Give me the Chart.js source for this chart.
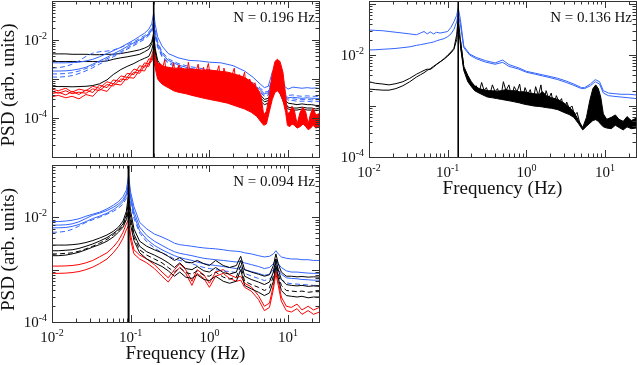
<!DOCTYPE html>
<html>
<head>
<meta charset="utf-8">
<script src="https://cdn.jsdelivr.net/npm/chart.js@4.4.0/dist/chart.umd.min.js"></script>
<style>
  html, body { margin: 0; padding: 0; background: #fff; }
  #wrap { position: relative; width: 637px; height: 365px; }
  #wrap canvas { position: absolute; left: 0; top: 0; }
</style>
</head>
<body>
<div id="wrap">
  <canvas id="psdTopLeft" width="637" height="365"></canvas>
  <canvas id="psdBottomLeft" width="637" height="365"></canvas>
  <canvas id="psdTopRight" width="637" height="365"></canvas>
</div>
<script>
// ---- tick labels (powers of ten) ----
const xTickVals = [0.01, 0.1, 1, 10];
const xTickExps = ['-2', '-1', '0', '1'];
const yTickVals = [1e-2, 1e-4];
const yTickExps = ['-2', '-4'];

// ---- top-left panel, N = 0.196 Hz ----
const tlN = 0.196;
const tlFreq = [0.01, 0.012, 0.015, 0.018, 0.022, 0.027, 0.033, 0.04, 0.05, 0.06,
  0.075, 0.09, 0.11, 0.13, 0.15, 0.17, 0.185, 0.196, 0.205, 0.22,
  0.25, 0.3, 0.4, 0.55, 0.75, 1, 1.4, 2, 2.8, 3.6,
  4.4, 5, 5.6, 6.3, 7.2, 8, 9, 10, 11.5, 13,
  15, 17.5, 20, 22.5, 25];
const tlBlack1 = [4.4e-3, 4.4e-3, 4.4e-3, 4.3e-3, 4.3e-3, 4.3e-3, 4.2e-3, 4.2e-3, 4.3e-3, 4.3e-3,
  4.5e-3, 4.8e-3, 5.2e-3, 5.6e-3, 6.2e-3, 7.0e-3, 9.0e-3, 1.5e-2, 6e-3, 3e-3,
  2.0e-3, 1.6e-3, 1.3e-3, 1.1e-3, 1.0e-3, 9e-4, 8e-4, 7e-4, 6e-4, 5e-4,
  4e-4, 3e-4, 3.2e-4, 5e-4, 8e-4, 5e-4, 3e-4, 2.4e-4, 2.3e-4, 2.2e-4,
  2.3e-4, 2.2e-4, 2.2e-4, 2.1e-4, 2.1e-4];
const tlBlack2 = [2.8e-3, 2.8e-3, 2.8e-3, 2.8e-3, 2.8e-3, 2.8e-3, 2.8e-3, 2.8e-3, 2.9e-3, 3.2e-3,
  3.5e-3, 3.7e-3, 4.0e-3, 4.3e-3, 5.0e-3, 5.8e-3, 8e-3, 1.2e-2, 5e-3, 2.5e-3,
  1.8e-3, 1.4e-3, 1.2e-3, 1.0e-3, 9e-4, 8e-4, 7e-4, 6e-4, 5e-4, 4.2e-4,
  3.4e-4, 2.6e-4, 2.8e-4, 4.5e-4, 7e-4, 4.5e-4, 2.6e-4, 1.9e-4, 1.8e-4, 1.8e-4,
  1.9e-4, 1.8e-4, 1.8e-4, 1.7e-4, 1.8e-4];
const tlBlack3 = [6.5e-4, 6.4e-4, 6.4e-4, 6.3e-4, 6.4e-4, 6.5e-4, 6.8e-4, 7.5e-4, 9.5e-4, 1.3e-3,
  1.75e-3, 2.1e-3, 2.5e-3, 3.0e-3, 3.4e-3, 3.8e-3, 5.5e-3, 9e-3, 4e-3, 2e-3,
  1.5e-3, 1.2e-3, 1.0e-3, 9e-4, 8e-4, 7e-4, 6e-4, 5e-4, 4.2e-4, 3.5e-4,
  2.8e-4, 2.2e-4, 2.4e-4, 4e-4, 6e-4, 4e-4, 2.2e-4, 1.7e-4, 1.6e-4, 1.6e-4,
  1.7e-4, 1.6e-4, 1.6e-4, 1.55e-4, 1.6e-4];
const tlBlue1 = [2.6e-3, 2.6e-3, 2.6e-3, 2.65e-3, 2.7e-3, 2.9e-3, 3.2e-3, 3.7e-3, 4.5e-3, 5.3e-3,
  6.5e-3, 8e-3, 1.0e-2, 1.25e-2, 1.5e-2, 1.9e-2, 2.6e-2, 5e-2, 2.5e-2, 1.2e-2,
  7e-3, 4.5e-3, 3.5e-3, 3.0e-3, 2.9e-3, 2.7e-3, 2.6e-3, 2.2e-3, 1.6e-3, 1.1e-3,
  7.5e-4, 6e-4, 6.5e-4, 1.5e-3, 2.2e-3, 1.2e-3, 6.5e-4, 5.5e-4, 6.2e-4, 6e-4,
  5.8e-4, 6e-4, 5.8e-4, 5.9e-4, 5.7e-4];
const tlBlue2 = [1.9e-3, 1.95e-3, 2.1e-3, 2.4e-3, 2.9e-3, 3.8e-3, 4.6e-3, 5.0e-3, 5.2e-3, 5.5e-3,
  6.5e-3, 7.5e-3, 9e-3, 1.1e-2, 1.3e-2, 1.6e-2, 2.0e-2, 3.2e-2, 1.8e-2, 9e-3,
  5e-3, 3.3e-3, 2.5e-3, 2.1e-3, 1.9e-3, 1.7e-3, 1.5e-3, 1.3e-3, 1.05e-3, 8e-4,
  6e-4, 4.6e-4, 4.8e-4, 1.1e-3, 1.7e-3, 9e-4, 4.5e-4, 3.8e-4, 3.9e-4, 3.7e-4,
  3.6e-4, 3.7e-4, 3.6e-4, 3.6e-4, 3.5e-4];
const tlBlue3 = [1.6e-3, 1.6e-3, 1.62e-3, 1.68e-3, 1.8e-3, 2.0e-3, 2.4e-3, 2.9e-3, 3.6e-3, 4.4e-3,
  5.5e-3, 6.8e-3, 8.5e-3, 1.0e-2, 1.2e-2, 1.45e-2, 1.8e-2, 2.8e-2, 1.5e-2, 8e-3,
  4.5e-3, 3.0e-3, 2.3e-3, 1.9e-3, 1.7e-3, 1.5e-3, 1.35e-3, 1.15e-3, 9.5e-4, 7.2e-4,
  5.4e-4, 4.2e-4, 4.4e-4, 1.0e-3, 1.5e-3, 8e-4, 4.1e-4, 3.3e-4, 3.4e-4, 3.3e-4,
  3.2e-4, 3.3e-4, 3.2e-4, 3.2e-4, 3.1e-4];
const tlBlue4 = [1.35e-3, 1.35e-3, 1.38e-3, 1.45e-3, 1.6e-3, 1.85e-3, 2.2e-3, 2.7e-3, 3.3e-3, 4.0e-3,
  5.0e-3, 6.2e-3, 7.8e-3, 9.5e-3, 1.15e-2, 1.4e-2, 1.7e-2, 2.4e-2, 1.3e-2, 7e-3,
  4e-3, 2.7e-3, 2.1e-3, 1.75e-3, 1.55e-3, 1.4e-3, 1.25e-3, 1.05e-3, 8.6e-4, 6.6e-4,
  5e-4, 3.9e-4, 4.1e-4, 9e-4, 1.4e-3, 7.4e-4, 3.8e-4, 3.1e-4, 3.1e-4, 3.0e-4,
  3.0e-4, 3.0e-4, 2.9e-4, 3.0e-4, 2.9e-4];
const tlBlue5 = [1.12e-3, 1.12e-3, 1.15e-3, 1.22e-3, 1.38e-3, 1.62e-3, 1.95e-3, 2.4e-3, 3.0e-3, 3.7e-3,
  4.6e-3, 5.8e-3, 7.2e-3, 8.8e-3, 1.05e-2, 1.3e-2, 1.6e-2, 2.2e-2, 1.2e-2, 6.5e-3,
  3.7e-3, 2.5e-3, 1.95e-3, 1.6e-3, 1.45e-3, 1.3e-3, 1.15e-3, 9.6e-4, 7.8e-4, 6e-4,
  4.6e-4, 3.6e-4, 3.8e-4, 8.5e-4, 1.3e-3, 6.8e-4, 3.5e-4, 2.8e-4, 2.8e-4, 2.7e-4,
  2.7e-4, 2.7e-4, 2.6e-4, 2.7e-4, 2.6e-4];
// red runs below the peak use the first 18 frequencies
const tlRed1 = [5.5e-4, 5.0e-4, 5.8e-4, 4.6e-4, 5.5e-4, 5.0e-4, 6.5e-4, 5.8e-4, 8.5e-4, 7.5e-4,
  1.2e-3, 1.1e-3, 1.8e-3, 1.6e-3, 2.6e-3, 2.4e-3, 4e-3, 6e-3];
const tlRed2 = [4.2e-4, 4.6e-4, 3.9e-4, 4.8e-4, 4.0e-4, 5.2e-4, 4.5e-4, 7.0e-4, 6.0e-4, 9.5e-4,
  8.5e-4, 1.4e-3, 1.3e-3, 2.2e-3, 2.0e-3, 3.3e-3, 3.2e-3, 5e-3];
const tlRed3 = [3.5e-4, 3.8e-4, 3.3e-4, 3.6e-4, 3.1e-4, 4.0e-4, 3.6e-4, 5.5e-4, 4.8e-4, 7.5e-4,
  7.0e-4, 1.1e-3, 1.05e-3, 1.7e-3, 1.6e-3, 2.6e-3, 2.8e-3, 4e-3];
const tlRed4 = [4.8e-4, 4.3e-4, 5.0e-4, 4.2e-4, 4.6e-4, 4.3e-4, 5.6e-4, 5.0e-4, 7.2e-4, 6.6e-4,
  1.0e-3, 9.5e-4, 1.5e-3, 1.4e-3, 2.2e-3, 2.1e-3, 3.4e-3, 4.5e-3];
// dense red band above the peak: upper and lower edges
const tlBandFreq = [0.196, 0.2, 0.21, 0.22, 0.24, 0.26, 0.3, 0.35, 0.4, 0.5,
  0.6, 0.8, 1, 1.3, 1.7, 2.2, 2.8, 3.4, 4, 4.5,
  4.9, 5.3, 5.8, 6.3, 6.8, 7.3, 7.9, 8.6, 9.3, 9.8,
  10.5, 11.2, 12, 13, 14.2, 15.5, 16.8, 18, 19.3, 20.8,
  22.5, 25];
const tlRedUpper = [6e-3, 4.5e-3, 3.0e-3, 2.5e-3, 2.4e-3, 2.1e-3, 2.0e-3, 1.9e-3, 1.9e-3, 1.8e-3,
  1.8e-3, 1.7e-3, 1.7e-3, 1.6e-3, 1.5e-3, 1.3e-3, 1.1e-3, 8.5e-4, 6e-4, 4e-4,
  1.2e-4, 1.5e-4, 4e-4, 1.4e-3, 2.8e-3, 3.2e-3, 2.8e-3, 1.5e-3, 4e-4, 1.3e-4,
  1.4e-4, 2.0e-4, 1.6e-4, 7e-5, 1.4e-4, 1.9e-4, 1.4e-4, 7e-5, 1.3e-4, 1.8e-4,
  1.2e-4, 1.3e-4];
const tlRedLower = [5e-3, 2.5e-3, 1.5e-3, 1.0e-3, 8e-4, 7e-4, 6e-4, 5e-4, 4.6e-4, 4.2e-4,
  3.8e-4, 3.3e-4, 3.0e-4, 2.7e-4, 2.4e-4, 2.0e-4, 1.7e-4, 1.4e-4, 1.1e-4, 8e-5,
  6.5e-5, 7e-5, 1.5e-4, 3e-4, 4.5e-4, 5e-4, 4.2e-4, 2.8e-4, 1.4e-4, 6.5e-5,
  6e-5, 7e-5, 6.5e-5, 5.5e-5, 6e-5, 7e-5, 6e-5, 5e-5, 5.5e-5, 6.5e-5,
  5.5e-5, 6e-5];
// ragged red trace across the band (spiky upper edge)
const tlJagFreq = [0.21, 0.225, 0.24, 0.255, 0.27, 0.29, 0.31, 0.33, 0.35, 0.38,
  0.41, 0.44, 0.47, 0.5, 0.54, 0.58, 0.62, 0.67, 0.72, 0.78,
  0.84, 0.9, 0.97, 1.05, 1.13, 1.22, 1.32, 1.42, 1.53, 1.65,
  1.78, 1.92, 2.07, 2.23, 2.4, 2.6, 2.8, 3.0, 3.25, 3.5,
  3.8, 4.1, 4.4];
const tlRedJag = [3.0e-3, 1.4e-3, 2.2e-3, 1.9e-3, 3.1e-3, 1.0e-3, 2.0e-3, 1.5e-3, 2.6e-3, 8e-4,
  2.3e-3, 1.6e-3, 1.9e-3, 7e-4, 2.7e-3, 1.2e-3, 1.8e-3, 1.5e-3, 2.4e-3, 6e-4,
  2.0e-3, 1.4e-3, 2.5e-3, 9e-4, 1.7e-3, 1.3e-3, 2.2e-3, 5e-4, 1.9e-3, 1.1e-3,
  1.5e-3, 1.2e-3, 1.9e-3, 4e-4, 1.3e-3, 9e-4, 1.5e-3, 3.5e-4, 1.0e-3, 6e-4,
  8e-4, 2.5e-4, 5e-4];

// ---- bottom-left panel, N = 0.094 Hz ----
const blN = 0.094;
const blFreq = [0.01, 0.012, 0.015, 0.018, 0.022, 0.027, 0.033, 0.04, 0.05, 0.06,
  0.07, 0.08, 0.088, 0.094, 0.1, 0.11, 0.13, 0.16, 0.2, 0.25,
  0.3, 0.36, 0.42, 0.5, 0.6, 0.7, 0.85, 1, 1.2, 1.5,
  1.8, 2.2, 2.5, 2.8, 3.4, 4.2, 5, 5.8, 6.5, 7,
  7.5, 8.2, 9.5, 11, 13, 15, 18, 21, 25];
const blBlue1 = [8.3e-3, 8.3e-3, 8.5e-3, 8.8e-3, 9.4e-3, 1.05e-2, 1.15e-2, 1.25e-2, 1.45e-2, 1.7e-2,
  2.0e-2, 2.5e-2, 3.3e-2, 6.3e-2, 3e-2, 1.6e-2, 8e-3, 6e-3, 4.8e-3, 4.2e-3,
  3.7e-3, 3.2e-3, 3.0e-3, 2.9e-3, 2.8e-3, 2.7e-3, 2.6e-3, 2.55e-3, 2.5e-3, 2.4e-3,
  2.3e-3, 2.25e-3, 2.2e-3, 2.1e-3, 2.0e-3, 1.85e-3, 1.75e-3, 1.8e-3, 2.0e-3, 2.3e-3,
  2.0e-3, 1.75e-3, 1.65e-3, 1.6e-3, 1.6e-3, 1.55e-3, 1.55e-3, 1.5e-3, 1.5e-3];
const blBlue2 = [7.1e-3, 7.1e-3, 7.2e-3, 7.5e-3, 8.2e-3, 9.5e-3, 1.1e-2, 1.2e-2, 1.35e-2, 1.55e-2,
  1.8e-2, 2.2e-2, 2.8e-2, 4.5e-2, 2.5e-2, 1.3e-2, 6.5e-3, 4.5e-3, 3.5e-3, 2.9e-3,
  2.5e-3, 2.2e-3, 2.05e-3, 1.95e-3, 1.85e-3, 1.75e-3, 1.65e-3, 1.6e-3, 1.55e-3, 1.5e-3,
  1.45e-3, 1.4e-3, 1.45e-3, 1.35e-3, 1.25e-3, 1.15e-3, 1.05e-3, 1.1e-3, 1.3e-3, 1.6e-3,
  1.3e-3, 1.1e-3, 9.5e-4, 9e-4, 9e-4, 8.8e-4, 8.6e-4, 8.5e-4, 8.5e-4];
const blBlue3 = [6.3e-3, 6.3e-3, 6.4e-3, 6.7e-3, 7.3e-3, 8.3e-3, 9.5e-3, 1.05e-2, 1.2e-2, 1.4e-2,
  1.65e-2, 2.0e-2, 2.6e-2, 3.8e-2, 2.2e-2, 1.1e-2, 5.5e-3, 3.8e-3, 2.9e-3, 2.4e-3,
  2.1e-3, 1.85e-3, 1.7e-3, 1.6e-3, 1.5e-3, 1.4e-3, 1.3e-3, 1.25e-3, 1.2e-3, 1.15e-3,
  1.1e-3, 1.05e-3, 1.1e-3, 1.0e-3, 9.2e-4, 8.5e-4, 7.8e-4, 8.2e-4, 1.0e-3, 1.3e-3,
  1.0e-3, 8.2e-4, 7e-4, 6.8e-4, 6.7e-4, 6.5e-4, 6.4e-4, 6.3e-4, 6.3e-4];
const blBlue4 = [5.2e-3, 5.2e-3, 5.4e-3, 5.9e-3, 6.8e-3, 8.0e-3, 9.0e-3, 1.0e-2, 1.15e-2, 1.3e-2,
  1.5e-2, 1.8e-2, 2.3e-2, 3.3e-2, 1.9e-2, 9.5e-3, 5.0e-3, 3.4e-3, 2.6e-3, 2.1e-3,
  1.85e-3, 1.6e-3, 1.5e-3, 1.4e-3, 1.3e-3, 1.2e-3, 1.1e-3, 1.05e-3, 1.0e-3, 9.5e-4,
  9.2e-4, 8.8e-4, 9.5e-4, 8.5e-4, 7.6e-4, 6.8e-4, 6.2e-4, 6.6e-4, 8e-4, 1.05e-3,
  8e-4, 6.5e-4, 5.6e-4, 5.4e-4, 5.3e-4, 5.2e-4, 5.1e-4, 5.0e-4, 5.0e-4];
const blBlack1 = [2.95e-3, 2.95e-3, 2.95e-3, 3.0e-3, 3.1e-3, 3.3e-3, 3.6e-3, 4.0e-3, 4.6e-3, 5.4e-3,
  6.5e-3, 8.5e-3, 1.3e-2, 2.8e-2, 1.3e-2, 6e-3, 3.5e-3, 2.8e-3, 2.4e-3, 2.1e-3,
  1.8e-3, 1.5e-3, 1.7e-3, 1.4e-3, 1.35e-3, 1.5e-3, 1.3e-3, 1.2e-3, 1.5e-3, 1.2e-3,
  1.1e-3, 1.2e-3, 1.8e-3, 1.0e-3, 9e-4, 8.2e-4, 7.5e-4, 8e-4, 1.2e-3, 2.0e-3,
  1.3e-3, 9e-4, 7.5e-4, 7.5e-4, 7.3e-4, 7.4e-4, 7.2e-4, 7.3e-4, 7.2e-4];
const blBlack2 = [2.3e-3, 2.3e-3, 2.35e-3, 2.4e-3, 2.55e-3, 2.8e-3, 3.1e-3, 3.5e-3, 4.1e-3, 4.9e-3,
  5.9e-3, 7.5e-3, 1.1e-2, 2.0e-2, 1.0e-2, 4.8e-3, 2.8e-3, 2.2e-3, 1.9e-3, 1.6e-3,
  1.35e-3, 1.1e-3, 1.35e-3, 1.05e-3, 1.0e-3, 1.15e-3, 9.5e-4, 9e-4, 1.1e-3, 8.8e-4,
  8.2e-4, 9e-4, 1.5e-3, 7.5e-4, 6.5e-4, 5.8e-4, 5.2e-4, 5.8e-4, 9e-4, 1.6e-3,
  1.0e-3, 6.5e-4, 5.2e-4, 5.0e-4, 4.9e-4, 5.0e-4, 4.8e-4, 4.9e-4, 4.8e-4];
const blBlack3 = [2.0e-3, 2.0e-3, 2.05e-3, 2.1e-3, 2.25e-3, 2.5e-3, 2.8e-3, 3.2e-3, 3.8e-3, 4.6e-3,
  5.6e-3, 7.0e-3, 1.0e-2, 1.6e-2, 8.5e-3, 4.2e-3, 2.4e-3, 1.9e-3, 1.6e-3, 1.35e-3,
  1.1e-3, 9e-4, 1.1e-3, 8.8e-4, 8.2e-4, 9.5e-4, 7.8e-4, 7.5e-4, 9e-4, 7.2e-4,
  6.6e-4, 7.2e-4, 1.2e-3, 6e-4, 5.2e-4, 4.6e-4, 4.0e-4, 4.5e-4, 7.5e-4, 1.4e-3,
  8.5e-4, 5e-4, 4.0e-4, 3.9e-4, 3.8e-4, 3.9e-4, 3.7e-4, 3.8e-4, 3.8e-4];
const blBlack4 = [1.85e-3, 1.85e-3, 1.9e-3, 2.0e-3, 2.15e-3, 2.4e-3, 2.7e-3, 3.0e-3, 3.5e-3, 4.2e-3,
  5.2e-3, 6.5e-3, 9e-3, 1.3e-2, 7e-3, 3.6e-3, 2.1e-3, 1.6e-3, 1.35e-3, 1.15e-3,
  9.5e-4, 7.5e-4, 9e-4, 7.2e-4, 6.8e-4, 8e-4, 6.5e-4, 6.2e-4, 7.5e-4, 6e-4,
  5.5e-4, 6e-4, 1.0e-3, 5e-4, 4.3e-4, 3.7e-4, 3.2e-4, 3.6e-4, 6e-4, 1.2e-3,
  7e-4, 4e-4, 3.2e-4, 3.1e-4, 3.0e-4, 3.1e-4, 2.9e-4, 3.0e-4, 3.0e-4];
const blRed1 = [1.17e-3, 1.17e-3, 1.18e-3, 1.2e-3, 1.25e-3, 1.35e-3, 1.5e-3, 1.75e-3, 2.1e-3, 2.7e-3,
  3.6e-3, 5.2e-3, 7.5e-3, 9e-3, 4.5e-3, 2.4e-3, 1.9e-3, 1.6e-3, 1.25e-3, 9e-4,
  7e-4, 1.0e-3, 1.3e-3, 1.0e-3, 6e-4, 1.0e-3, 8e-4, 5.5e-4, 9e-4, 1.0e-3,
  8e-4, 7e-4, 7.5e-4, 5.5e-4, 4.7e-4, 3.2e-4, 2.0e-4, 2.3e-4, 5e-4, 1.0e-3,
  6e-4, 3e-4, 2.0e-4, 1.9e-4, 2.2e-4, 1.7e-4, 2.0e-4, 1.7e-4, 1.9e-4];
const blRed2 = [8.5e-4, 8.5e-4, 8.6e-4, 8.8e-4, 9.2e-4, 1.0e-3, 1.12e-3, 1.3e-3, 1.6e-3, 2.1e-3,
  2.8e-3, 4.0e-3, 5.8e-3, 7e-3, 3.6e-3, 2.0e-3, 1.6e-3, 1.35e-3, 1.05e-3, 7.5e-4,
  5.8e-4, 8.5e-4, 1.1e-3, 8.5e-4, 5e-4, 8.5e-4, 6.8e-4, 4.6e-4, 7.5e-4, 8.5e-4,
  6.8e-4, 6e-4, 6.3e-4, 4.6e-4, 3.9e-4, 2.7e-4, 1.65e-4, 1.9e-4, 4.2e-4, 8.5e-4,
  5e-4, 2.5e-4, 1.65e-4, 1.55e-4, 1.8e-4, 1.4e-4, 1.65e-4, 1.4e-4, 1.55e-4];

// ---- top-right panel, N = 0.136 Hz ----
const trN = 0.136;
const trFreq = [0.01, 0.012, 0.015, 0.018, 0.022, 0.027, 0.033, 0.04, 0.045, 0.05,
  0.055, 0.06, 0.066, 0.072, 0.08, 0.09, 0.1, 0.11, 0.12, 0.13,
  0.136, 0.145, 0.16, 0.19, 0.23, 0.3, 0.4, 0.5, 0.6, 0.8,
  1, 1.3, 1.6, 2, 2.5, 3.2, 4, 5, 5.5, 6.5,
  7.5, 8.5, 9.5, 11, 13, 16, 20, 25];
const trBlue1 = [3.1e-2, 3.05e-2, 3.0e-2, 2.9e-2, 2.8e-2, 2.7e-2, 2.6e-2, 2.5e-2, 2.7e-2, 2.9e-2,
  2.6e-2, 2.85e-2, 2.6e-2, 2.8e-2, 2.7e-2, 2.8e-2, 2.9e-2, 3.5e-2, 4.5e-2, 6e-2,
  8.5e-2, 5e-2, 1.5e-2, 1.05e-2, 9e-3, 7.8e-3, 7e-3, 8e-3, 6.5e-3, 5.6e-3,
  4.8e-3, 4.4e-3, 4.1e-3, 3.8e-3, 3.5e-3, 3.1e-3, 2.7e-3, 2.3e-3, 2.3e-3, 2.7e-3,
  3.3e-3, 3.0e-3, 2.0e-3, 1.8e-3, 1.75e-3, 1.7e-3, 1.7e-3, 1.65e-3];
const trBlue2 = [1.26e-2, 1.27e-2, 1.3e-2, 1.32e-2, 1.35e-2, 1.4e-2, 1.45e-2, 1.55e-2, 1.6e-2, 1.65e-2,
  1.7e-2, 1.75e-2, 1.8e-2, 1.9e-2, 2.0e-2, 2.1e-2, 2.3e-2, 2.6e-2, 3.2e-2, 4.5e-2,
  6.5e-2, 4e-2, 1.4e-2, 1.0e-2, 8.5e-3, 7.3e-3, 6.6e-3, 7.2e-3, 6.0e-3, 5.3e-3,
  4.6e-3, 4.2e-3, 3.9e-3, 3.6e-3, 3.3e-3, 2.9e-3, 2.55e-3, 2.2e-3, 2.2e-3, 2.5e-3,
  3.0e-3, 2.7e-3, 1.8e-3, 1.6e-3, 1.55e-3, 1.5e-3, 1.45e-3, 1.4e-3];
const trLowFreq = [0.01, 0.012, 0.015, 0.018, 0.022, 0.027, 0.033, 0.04, 0.045, 0.05,
  0.055, 0.06, 0.066, 0.072, 0.08, 0.09, 0.1, 0.11, 0.12, 0.13,
  0.136, 0.145, 0.16];
const trBlack1 = [3.0e-3, 2.8e-3, 2.7e-3, 2.6e-3, 2.75e-3, 3.0e-3, 3.5e-3, 4.2e-3, 4.6e-3, 5.0e-3,
  5.3e-3, 5.2e-3, 5.8e-3, 6.5e-3, 7.3e-3, 8.5e-3, 1.0e-2, 1.15e-2, 1.35e-2, 2.5e-2,
  5.5e-2, 2.0e-2, 6e-3];
const trBlack2 = [2.15e-3, 2.1e-3, 2.05e-3, 2.05e-3, 2.2e-3, 2.5e-3, 3.0e-3, 3.7e-3, 4.1e-3, 4.5e-3,
  5.0e-3, 5.4e-3, 6.0e-3, 6.6e-3, 7.4e-3, 8.3e-3, 9.5e-3, 1.1e-2, 1.3e-2, 2.0e-2,
  4.0e-2, 1.6e-2, 5.5e-3];
const trBandFreq = [0.145, 0.16, 0.18, 0.2, 0.22, 0.25, 0.28, 0.32, 0.37, 0.42,
  0.48, 0.55, 0.63, 0.72, 0.82, 0.95, 1.1, 1.25, 1.45, 1.6,
  1.8, 2.1, 2.5, 3, 3.5, 4, 4.6, 5.2, 5.8, 6.4,
  7, 7.6, 8.2, 8.8, 9.5, 10.5, 12, 13.5, 15, 17,
  19, 21.5, 25];
const trBlackUpper = [2.0e-2, 6e-3, 4e-3, 3.0e-3, 2.5e-3, 2.2e-3, 2.1e-3, 2.0e-3, 2.0e-3, 1.95e-3,
  2.0e-3, 2.1e-3, 2.0e-3, 2.0e-3, 1.9e-3, 1.9e-3, 1.8e-3, 1.75e-3, 1.7e-3, 1.9e-3,
  1.6e-3, 1.45e-3, 1.35e-3, 1.15e-3, 9.5e-4, 7.8e-4, 5.2e-4, 3.8e-4, 6e-4, 1.3e-3,
  2.2e-3, 2.6e-3, 2.2e-3, 1.5e-3, 7e-4, 5.5e-4, 6e-4, 6.7e-4, 5.5e-4, 5e-4,
  6.2e-4, 5.2e-4, 5.8e-4];
const trBlackLower = [1.5e-2, 5e-3, 3e-3, 2.4e-3, 2.0e-3, 1.8e-3, 1.65e-3, 1.5e-3, 1.45e-3, 1.4e-3,
  1.35e-3, 1.3e-3, 1.25e-3, 1.2e-3, 1.15e-3, 1.08e-3, 1.04e-3, 1.0e-3, 9.8e-4, 9.6e-4,
  9.3e-4, 9e-4, 8.5e-4, 7.5e-4, 6.8e-4, 6.0e-4, 4.5e-4, 3.4e-4, 4e-4, 4.6e-4,
  5.2e-4, 5.4e-4, 5.0e-4, 4.4e-4, 3.9e-4, 3.7e-4, 3.6e-4, 4.2e-4, 3.8e-4, 3.4e-4,
  3.9e-4, 3.6e-4, 3.7e-4];
// ragged black trace across the band
const trJagFreq = [0.2, 0.215, 0.23, 0.25, 0.27, 0.29, 0.31, 0.34, 0.37, 0.4,
  0.43, 0.47, 0.51, 0.55, 0.6, 0.65, 0.7, 0.76, 0.82, 0.89,
  0.96, 1.04, 1.12, 1.21, 1.31, 1.42, 1.53, 1.65, 1.78, 1.92,
  2.07, 2.23, 2.4, 2.6, 2.8, 3.0, 3.25, 3.5, 3.8, 4.1,
  4.4, 4.8];
const trBlackJag = [2.8e-3, 2.2e-3, 2.5e-3, 1.8e-3, 2.9e-3, 2.0e-3, 2.3e-3, 1.6e-3, 2.6e-3, 1.9e-3,
  2.2e-3, 1.4e-3, 3.0e-3, 2.0e-3, 2.6e-3, 1.5e-3, 2.4e-3, 1.9e-3, 2.7e-3, 1.3e-3,
  2.3e-3, 1.7e-3, 2.1e-3, 1.2e-3, 2.4e-3, 1.6e-3, 2.6e-3, 1.1e-3, 2.0e-3, 1.4e-3,
  1.8e-3, 1.0e-3, 1.6e-3, 1.2e-3, 1.4e-3, 8e-4, 1.2e-3, 9e-4, 1.0e-3, 6.5e-4,
  7.5e-4, 4.5e-4];

const BLUE = '#3264ff';
const RED = '#ff0000';
const BLACK = '#000000';
const SERIF = '"Liberation Serif", "Times New Roman", serif';

function pts(freq, vals) {
  return vals.map((v, i) => ({ x: freq[i], y: v }));
}

function trace(freq, vals, color, extra) {
  return Object.assign({
    data: pts(freq, vals),
    borderColor: color,
    backgroundColor: color,
    borderWidth: 1,
    pointRadius: 0,
    tension: 0,
    fill: false
  }, extra || {});
}

function drawPow(ctx, exp, x, y, align) {
  ctx.font = '15px ' + SERIF;
  const w1 = ctx.measureText('10').width;
  ctx.font = '10px ' + SERIF;
  const w2 = ctx.measureText(exp).width;
  let x0 = x;
  if (align === 'right') x0 = x - w1 - w2;
  if (align === 'center') x0 = x - (w1 + w2) / 2;
  ctx.textAlign = 'left';
  ctx.textBaseline = 'alphabetic';
  ctx.font = '15px ' + SERIF;
  ctx.fillText('10', x0, y);
  ctx.font = '10px ' + SERIF;
  ctx.fillText(exp, x0 + w1, y - 6);
}

// frame, inward log ticks on all sides, labels and titles
function panelDeco(cfg) {
  return {
    id: 'panelDeco',
    afterDraw(chart) {
      const { ctx, chartArea: a, scales: { x, y } } = chart;
      ctx.save();
      ctx.strokeStyle = '#333';
      ctx.lineWidth = 1;
      ctx.beginPath();
      for (let e = -2; e <= 1; e++) {
        for (let k = 1; k <= 9; k++) {
          const v = k * Math.pow(10, e);
          if (v < x.min || v > x.max) continue;
          const px = Math.round(x.getPixelForValue(v)) + 0.5;
          const len = k === 1 ? 7 : 3.5;
          ctx.moveTo(px, a.bottom); ctx.lineTo(px, a.bottom - len);
          ctx.moveTo(px, a.top); ctx.lineTo(px, a.top + len);
        }
      }
      for (let e = -5; e <= -1; e++) {
        for (let k = 1; k <= 9; k++) {
          const v = k * Math.pow(10, e);
          if (v < y.min * 0.999 || v > y.max) continue;
          const py = Math.round(y.getPixelForValue(v)) + 0.5;
          const len = k === 1 ? 7 : 3.5;
          ctx.moveTo(a.left, py); ctx.lineTo(a.left + len, py);
          ctx.moveTo(a.right, py); ctx.lineTo(a.right - len, py);
        }
      }
      ctx.stroke();
      ctx.strokeRect(Math.round(a.left) + 0.5, Math.round(a.top) + 0.5,
        Math.round(a.right - a.left), Math.round(a.bottom - a.top));

      ctx.fillStyle = '#111';
      yTickVals.forEach((v, i) => {
        drawPow(ctx, yTickExps[i], a.left - 5, y.getPixelForValue(v) + 5, 'right');
      });
      if (cfg.xLabels) {
        xTickVals.forEach((v, i) => {
          drawPow(ctx, xTickExps[i], x.getPixelForValue(v), a.bottom + 20, 'center');
        });
        ctx.font = '19px ' + SERIF;
        ctx.textAlign = 'center';
        ctx.fillText('Frequency (Hz)', (a.left + a.right) / 2, a.bottom + 37);
      }
      if (cfg.yTitle) {
        ctx.save();
        ctx.translate(14, (a.top + a.bottom) / 2 + 6);
        ctx.rotate(-Math.PI / 2);
        ctx.font = '19px ' + SERIF;
        ctx.textAlign = 'center';
        ctx.fillText('PSD (arb. units)', 0, 0);
        ctx.restore();
      }
      ctx.font = '15px ' + SERIF;
      ctx.textAlign = 'right';
      ctx.fillText(cfg.note, a.right - 4, a.top + 21);
      ctx.restore();
    }
  };
}

function makePanel(id, cfg) {
  new Chart(document.getElementById(id), {
    type: 'line',
    data: { datasets: cfg.datasets },
    options: {
      responsive: false,
      animation: false,
      events: [],
      layout: { padding: cfg.pad },
      plugins: { legend: { display: false }, tooltip: { enabled: false } },
      scales: {
        x: { type: 'logarithmic', min: 0.01, max: 24.7, display: false },
        y: { type: 'logarithmic', min: cfg.yMin, max: cfg.yMax, display: false }
      }
    },
    plugins: [panelDeco(cfg)]
  });
}

const tlLow = tlFreq.slice(0, 18);
makePanel('psdTopLeft', {
  pad: { left: 52, top: 1, right: 318, bottom: 208 },
  yMin: 1e-5, yMax: 1e-1,
  note: 'N = 0.196 Hz', xLabels: false, yTitle: true,
  datasets: [
    trace([tlN, tlN], [1e-5, 1e-1], BLACK, { borderWidth: 1.6, order: 0 }),
    trace(tlBandFreq, tlRedUpper, RED, { order: 1 }),
    trace(tlBandFreq, tlRedLower, RED, { order: 1, fill: '-1' }),
    trace(tlJagFreq, tlRedJag, RED, { order: 1 }),
    trace(tlLow, tlRed1, RED, { order: 1 }),
    trace(tlLow, tlRed2, RED, { order: 1 }),
    trace(tlLow, tlRed3, RED, { order: 1 }),
    trace(tlLow, tlRed4, RED, { order: 1 }),
    trace(tlFreq, tlBlue1, BLUE, { order: 2 }),
    trace(tlFreq, tlBlue2, BLUE, { order: 2, borderDash: [5, 3] }),
    trace(tlFreq, tlBlue3, BLUE, { order: 2 }),
    trace(tlFreq, tlBlue4, BLUE, { order: 2, borderDash: [5, 3] }),
    trace(tlFreq, tlBlue5, BLUE, { order: 2, borderDash: [5, 3] }),
    trace(tlFreq, tlBlack1, BLACK, { order: 3 }),
    trace(tlFreq, tlBlack2, BLACK, { order: 3 }),
    trace(tlFreq, tlBlack3, BLACK, { order: 3 })
  ]
});

makePanel('psdBottomLeft', {
  pad: { left: 52, top: 165, right: 318, bottom: 43 },
  yMin: 1e-4, yMax: 1e-1,
  note: 'N = 0.094 Hz', xLabels: true, yTitle: true,
  datasets: [
    trace([blN, blN], [1e-4, 1e-1], BLACK, { borderWidth: 2, order: 0 }),
    trace(blFreq, blRed1, RED, { order: 3 }),
    trace(blFreq, blRed2, RED, { order: 3 }),
    trace(blFreq, blBlue1, BLUE, { order: 2 }),
    trace(blFreq, blBlue2, BLUE, { order: 2 }),
    trace(blFreq, blBlue3, BLUE, { order: 2 }),
    trace(blFreq, blBlue4, BLUE, { order: 2, borderDash: [5, 3] }),
    trace(blFreq, blBlack1, BLACK, { order: 1 }),
    trace(blFreq, blBlack2, BLACK, { order: 1 }),
    trace(blFreq, blBlack3, BLACK, { order: 1, borderDash: [5, 3] }),
    trace(blFreq, blBlack4, BLACK, { order: 1 })
  ]
});

makePanel('psdTopRight', {
  pad: { left: 369, top: 1, right: 1, bottom: 208 },
  yMin: 1e-4, yMax: 0.115,
  note: 'N = 0.136 Hz', xLabels: true, yTitle: false,
  datasets: [
    trace([trN, trN], [1e-4, 0.115], BLACK, { borderWidth: 1.6, order: 0 }),
    trace(trFreq, trBlue1, BLUE, { order: 1 }),
    trace(trFreq, trBlue2, BLUE, { order: 1 }),
    trace(trBandFreq, trBlackUpper, BLACK, { order: 2 }),
    trace(trBandFreq, trBlackLower, BLACK, { order: 2, fill: '-1' }),
    trace(trJagFreq, trBlackJag, BLACK, { order: 2 }),
    trace(trLowFreq, trBlack1, BLACK, { order: 3 }),
    trace(trLowFreq, trBlack2, BLACK, { order: 3 })
  ]
});
</script>
</body>
</html>
